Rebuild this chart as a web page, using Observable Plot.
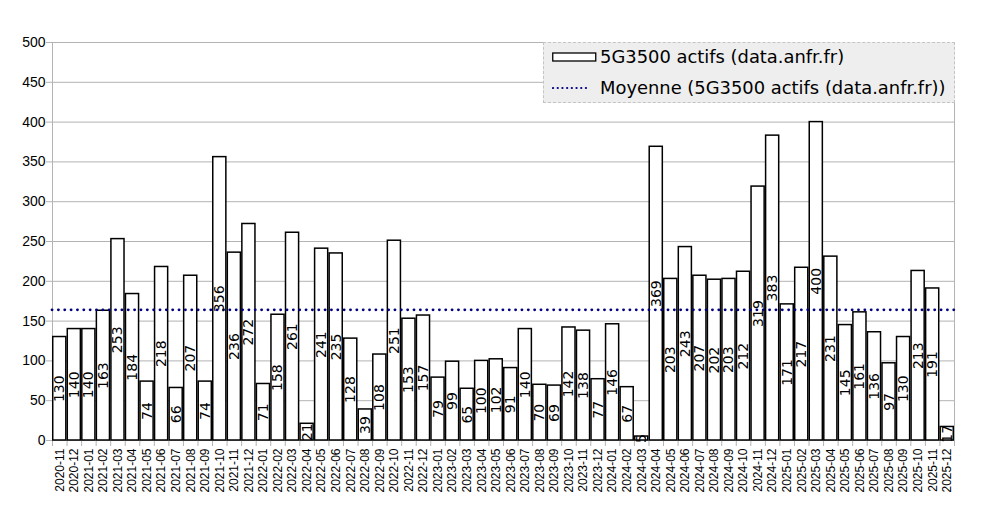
<!DOCTYPE html>
<html>
<head>
<meta charset="utf-8">
<script src="https://cdn.jsdelivr.net/npm/d3@7"></script>
<script src="https://cdn.jsdelivr.net/npm/@observablehq/plot@0.6"></script>
<style>
  html, body { margin: 0; padding: 0; background: #fff; }
  #wrap { position: relative; width: 985px; height: 508px; }
  #legend {
    position: absolute; left: 543px; top: 42px; width: 410px; height: 59px;
    background: #eeeeee; border: 1px dashed #c4c4c4;
    font-family: "DejaVu Sans", sans-serif; font-size: 17.9px; color: #000;
  }
  .row { position: absolute; left: 8px; display: flex; align-items: center; white-space: nowrap; }
  .row svg { display: block; }
</style>
</head>
<body>
<div id="wrap">
  <div id="chart"></div>
  <div id="legend">
    <div class="row" style="top:2px;">
      <svg width="48" height="12"><rect x="0.75" y="2" width="43" height="8" fill="#fff" stroke="#000" stroke-width="1.3"/></svg>
      <span style="line-height:24px;">5G3500 actifs (data.anfr.fr)</span>
    </div>
    <div class="row" style="top:33px;">
      <svg width="48" height="12"><line x1="1" y1="6" x2="38" y2="6" stroke="#000080" stroke-width="2.2" stroke-dasharray="0.1 4.6" stroke-linecap="round"/></svg>
      <span style="line-height:24px;">Moyenne (5G3500 actifs (data.anfr.fr))</span>
    </div>
  </div>
</div>
<script>
const months = [
  "2020-11","2020-12",
  "2021-01","2021-02","2021-03","2021-04","2021-05","2021-06","2021-07","2021-08","2021-09","2021-10","2021-11","2021-12",
  "2022-01","2022-02","2022-03","2022-04","2022-05","2022-06","2022-07","2022-08","2022-09","2022-10","2022-11","2022-12",
  "2023-01","2023-02","2023-03","2023-04","2023-05","2023-06","2023-07","2023-08","2023-09","2023-10","2023-11","2023-12",
  "2024-01","2024-02","2024-03","2024-04","2024-05","2024-06","2024-07","2024-08","2024-09","2024-10","2024-11","2024-12",
  "2025-01","2025-02","2025-03","2025-04","2025-05","2025-06","2025-07","2025-08","2025-09","2025-10","2025-11","2025-12"
];
const values = [
  130,140,
  140,163,253,184,74,218,66,207,74,356,236,272,
  71,158,261,21,241,235,128,39,108,251,153,157,
  79,99,65,100,102,91,140,70,69,142,138,77,
  146,67,5,369,203,243,207,202,203,212,319,383,
  171,217,400,231,145,161,136,97,130,213,191,17
];
const yTicks = [0,50,100,150,200,250,300,350,400,450,500];

const data = months.map((m, i) => ({month: m, value: values[i]}));
const mean = d3.mean(values);

const W = 985, H = 508, ML = 52, MR = 31, MT = 42, MB = 68;
const step = (W - ML - MR) / months.length;
const grid = "#b3b3b3";

const chart = Plot.plot({
  width: W, height: H,
  marginLeft: ML, marginRight: MR, marginTop: MT, marginBottom: MB,
  style: {fontFamily: "Liberation Sans, Arial, sans-serif", fontSize: "12px", background: "#fff", color: "#000"},
  x: {type: "band", domain: months, paddingInner: 0.1, paddingOuter: 0.05, label: null},
  y: {domain: [0, 500], label: null},
  marks: [
    Plot.gridY(yTicks, {stroke: grid, strokeOpacity: 1}),
    Plot.frame({stroke: grid, strokeOpacity: 1}),
    Plot.axisY(yTicks, {tickSize: 6, tickPadding: 1, fontSize: 14, stroke: grid, strokeOpacity: 1, fill: "#000", label: null}),
    Plot.axisX({tickSize: 0, tickPadding: 8, tickRotate: -90, fontSize: 12, fill: "#000", label: null}),
    Plot.axisX(months, {text: null, tickSize: 6, dx: -step / 2, stroke: grid, strokeOpacity: 1, label: null}),
    Plot.axisX(months.slice(-1), {text: null, tickSize: 6, dx: step / 2, stroke: grid, strokeOpacity: 1, label: null}),
    Plot.barY(data, {x: "month", y: "value", fill: "#fff", stroke: "#000", strokeWidth: 1.5}),
    Plot.ruleY([mean], {stroke: "#000080", strokeWidth: 2.8, strokeDasharray: "0.1 6.25", strokeLinecap: "round"}),
    Plot.text(data, {x: "month", y: d => d.value / 2, text: d => String(d.value), rotate: -90,
      fontSize: 14, fontFamily: "DejaVu Sans", fill: "#000"})
  ]
});
document.getElementById("chart").appendChild(chart);
</script>
</body>
</html>
